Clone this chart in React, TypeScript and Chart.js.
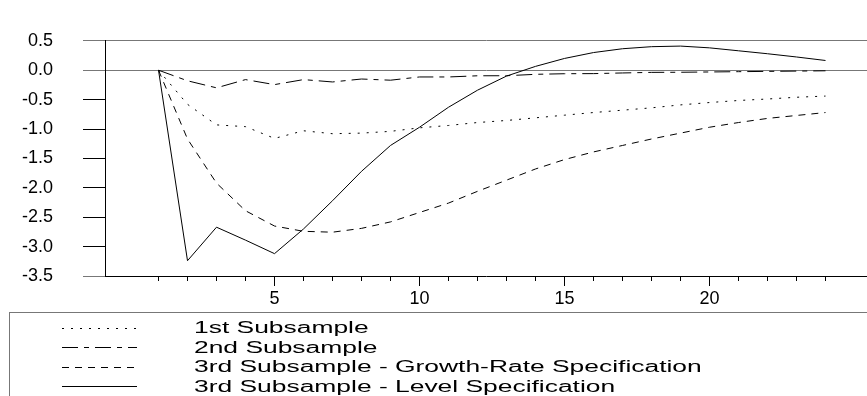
import React, { useEffect, useRef } from 'react';
import { Chart, registerables } from 'chart.js';

Chart.register(...registerables);

// ---- data ----
const periods = [1, 2, 3, 4, 5, 6, 7, 8, 9, 10, 11, 12, 13, 14, 15, 16, 17, 18, 19, 20, 21, 22, 23, 24];

const firstSubsample = [0, -0.58, -0.93, -0.96, -1.16, -1.03, -1.08, -1.07, -1.04, -0.98, -0.94, -0.89, -0.855, -0.81, -0.765, -0.72, -0.68, -0.64, -0.59, -0.55, -0.515, -0.49, -0.46, -0.44];

const secondSubsample = [0, -0.18, -0.30, -0.16, -0.245, -0.16, -0.20, -0.15, -0.17, -0.115, -0.115, -0.095, -0.094, -0.07, -0.06, -0.058, -0.047, -0.037, -0.035, -0.03, -0.025, -0.02, -0.015, -0.01];

const thirdGrowthRate = [0, -1.17, -1.92, -2.39, -2.65, -2.74, -2.755, -2.69, -2.58, -2.42, -2.26, -2.06, -1.87, -1.68, -1.52, -1.39, -1.28, -1.17, -1.07, -0.97, -0.89, -0.82, -0.77, -0.72];

const thirdLevel = [0, -3.24, -2.67, -2.89, -3.12, -2.70, -2.22, -1.72, -1.28, -0.97, -0.63, -0.34, -0.10, 0.065, 0.20, 0.30, 0.365, 0.40, 0.41, 0.38, 0.33, 0.28, 0.225, 0.165];

const seriesNames = [
  '1st Subsample',
  '2nd Subsample',
  '3rd Subsample - Growth-Rate Specification',
  '3rd Subsample - Level Specification',
];

const xLabelTicks = [5, 10, 15, 20];
const yMin = -3.5;
const yMax = 0.5;
const yStep = 0.5;
const yFullLines = [0.5, 0];

// ---- styles ----
const dashes = [[2, 7], [16, 6, 5, 6], [7, 6], []];

const boxLegend = {
  id: 'boxLegend',
  afterDraw(chart: any) {
    const ctx = chart.ctx as CanvasRenderingContext2D;
    ctx.save();
    ctx.strokeStyle = '#777';
    ctx.lineWidth = 1;
    ctx.strokeRect(9.5, 312.5, 900, 200);
    chart.data.datasets.forEach((ds: any, i: number) => {
      const y = 328 + i * 19.4;
      const yy = Math.round(y) + 0.5;
      ctx.save();
      ctx.strokeStyle = ds.borderColor;
      ctx.lineWidth = ds.borderWidth;
      ctx.setLineDash(ds.borderDash || []);
      ctx.beginPath();
      ctx.moveTo(62, yy);
      ctx.lineTo(137, yy);
      ctx.stroke();
      ctx.restore();
      ctx.save();
      ctx.translate(194, y + 1);
      ctx.scale(1.65, 1);
      ctx.font = '16px "Liberation Sans", Arial, sans-serif';
      ctx.fillStyle = '#000';
      ctx.textBaseline = 'middle';
      ctx.textAlign = 'left';
      ctx.fillText(ds.label, 0, 0);
      ctx.restore();
    });
    ctx.restore();
  },
};

export default function App() {
  const canvasRef = useRef<HTMLCanvasElement | null>(null);

  useEffect(() => {
    if (!canvasRef.current) return;
    const seriesValues = [firstSubsample, secondSubsample, thirdGrowthRate, thirdLevel];
    const pxPerUnit = (825.5 - 158.5) / (periods[periods.length - 1] - periods[0]);
    const xMin = periods[0] - (158.5 - 105) / pxPerUnit;
    const xMax = periods[periods.length - 1] + (867 - 825.5) / pxPerUnit;

    const chart = new Chart(canvasRef.current, {
      type: 'line',
      data: {
        labels: periods,
        datasets: seriesValues.map((vals, i) => ({
          label: seriesNames[i],
          data: vals,
          borderColor: '#000',
          borderWidth: 1,
          borderDash: dashes[i],
          pointRadius: 0,
          fill: false,
          tension: 0,
        })),
      },
      options: {
        animation: false,
        responsive: false,
        devicePixelRatio: 1,
        layout: { padding: { left: 0, right: 0, top: 20, bottom: 90 } },
        plugins: {
          legend: { display: false },
          tooltip: { enabled: false },
        },
        scales: {
          x: {
            type: 'linear',
            min: xMin,
            max: xMax,
            afterFit: (scale: any) => {
              scale.height = 30;
            },
            afterBuildTicks: (scale: any) => {
              scale.ticks = periods.map((v) => ({ value: v }));
            },
            border: { display: true, color: '#000', width: 1 },
            grid: {
              drawOnChartArea: false,
              drawTicks: true,
              tickLength: 10,
              tickColor: '#000',
              tickBorderDash: (ctx: any) =>
                ctx.tick && xLabelTicks.includes(ctx.tick.value) ? [] : [4, 40],
            },
            ticks: {
              autoSkip: false,
              maxRotation: 0,
              padding: 2,
              color: '#000',
              font: { family: '"Liberation Sans", Arial, sans-serif', size: 18 },
              callback: (v: any) => (xLabelTicks.includes(Number(v)) ? String(v) : ''),
            },
          },
          y: {
            min: yMin,
            max: yMax,
            afterFit: (scale: any) => {
              scale.width = 105;
            },
            border: { display: true, color: '#000', width: 1 },
            grid: {
              drawTicks: true,
              tickLength: 22,
              color: (ctx: any) =>
                ctx.tick && yFullLines.includes(ctx.tick.value) ? '#777' : 'rgba(0,0,0,0)',
              tickColor: (ctx: any) =>
                ctx.tick && (yFullLines.includes(ctx.tick.value) || ctx.tick.value === yMin) ? '#777' : '#000',
            },
            ticks: {
              stepSize: yStep,
              padding: 30,
              color: '#000',
              font: { family: '"Liberation Sans", Arial, sans-serif', size: 18 },
              callback: (v: any) => Number(v).toFixed(1),
            },
          },
        },
      },
      plugins: [boxLegend],
    });
    return () => chart.destroy();
  }, []);

  return (
    <div
      style={{
        position: 'absolute',
        left: 0,
        top: 0,
        width: 867,
        height: 396,
        overflow: 'hidden',
        background: '#fff',
      }}
    >
      <canvas ref={canvasRef} width={867} height={396} style={{ display: 'block' }} />
    </div>
  );
}
